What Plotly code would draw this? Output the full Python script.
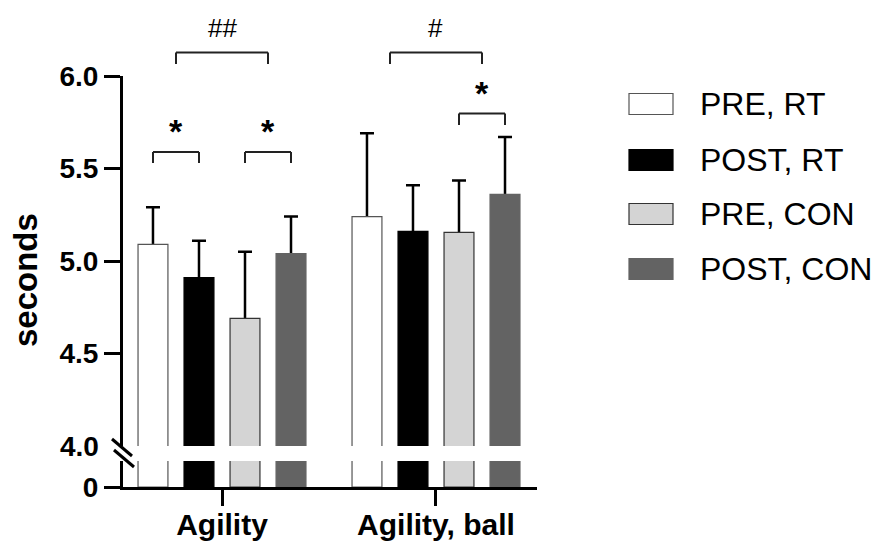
import plotly.graph_objects as go

# ---------------- data ----------------
categories = ["Agility", "Agility, ball"]
series_names = ["PRE, RT", "POST, RT", "PRE, CON", "POST, CON"]
pre_rt = [5.09, 5.24]
pre_rt_sd = [0.20, 0.45]
post_rt = [4.91, 5.16]
post_rt_sd = [0.20, 0.25]
pre_con = [4.69, 5.155]
pre_con_sd = [0.36, 0.28]
post_con = [5.04, 5.36]
post_con_sd = [0.20, 0.31]
upper_ticks = [4.5, 5.0, 5.5, 6.0]
upper_ticktext = ["4.5", "5.0", "5.5", "6.0"]

values = [pre_rt, post_rt, pre_con, post_con]
sds = [pre_rt_sd, post_rt_sd, pre_con_sd, post_con_sd]
fills = ["#ffffff", "#000000", "#d4d4d4", "#636363"]
lines = ["#555555", "#000000", "#333333", "#636363"]

W, H = 893, 546
def px(x):
    return x / W
def py(y):
    return 1 - y / H

FONT = "Liberation Sans"
xpos = list(range(len(categories)))
BARGAP = 0.14
pitch = (1 - BARGAP) / 4

fig = go.Figure()
# error bars first (transparent bars); the opaque bars drawn afterwards hide
# the lower part of each whisker, leaving only the upward (+SD) part visible
for i in range(4):
    fig.add_trace(go.Bar(
        x=xpos, y=values[i], name=series_names[i], xaxis="x", yaxis="y",
        marker=dict(color="rgba(0,0,0,0)", line=dict(width=0)),
        error_y=dict(type="data", symmetric=False, array=sds[i],
                     arrayminus=values[i], color="#000000",
                     thickness=2.5, width=7),
        showlegend=False, offsetgroup=str(i), hoverinfo="skip"))
for i in range(4):
    # upper segment
    fig.add_trace(go.Bar(
        x=xpos, y=values[i], name=series_names[i], xaxis="x", yaxis="y",
        marker=dict(color=fills[i], line=dict(color=lines[i], width=1.2)),
        showlegend=False, offsetgroup=str(i)))
    # lower segment (0 .. break)
    fig.add_trace(go.Bar(
        x=xpos, y=values[i], name=series_names[i], xaxis="x", yaxis="y2",
        marker=dict(color=fills[i], line=dict(color=lines[i], width=1.2)),
        showlegend=False, offsetgroup=str(i)))

axis_common = dict(showline=True, linecolor="#000000", linewidth=3,
                   ticks="outside", ticklen=16, tickwidth=3, tickcolor="#000000",
                   showgrid=False, zeroline=False, automargin=False,
                   tickfont=dict(family=FONT, size=28, color="#000000", weight="bold"))

fig.update_layout(
    template="none",
    width=W, height=H, autosize=False,
    margin=dict(l=0, r=0, t=0, b=0, pad=0),
    paper_bgcolor="#ffffff", plot_bgcolor="rgba(0,0,0,0)",
    showlegend=False,
    barmode="group", bargap=BARGAP, bargroupgap=0.35,
    xaxis=dict(domain=[px(123), px(537)], range=[-0.4626, 1.472],
               tickvals=xpos, ticktext=categories, anchor="y2",
               **axis_common),
    yaxis=dict(domain=[py(446), py(76)], range=[4.0, 6.0],
               tickvals=upper_ticks, ticktext=upper_ticktext, anchor="x",
               **axis_common),
    yaxis2=dict(domain=[py(487), py(461)], range=[0, 0.4],
                tickvals=[0], ticktext=["0"], anchor="x",
                **axis_common),
)
fig.update_xaxes(tickfont=dict(size=30), ticklabelstandoff=-7)

shapes = []
annotations = []

def bar_center(g, j):
    return xpos[g] + (j - 1.5) * pitch

def bracket(x0, x1, ytop, ybot):
    for (a, b, c, d) in [(x0, ytop, x1, ytop), (x0, ytop, x0, ybot), (x1, ytop, x1, ybot)]:
        shapes.append(dict(type="line", xref="x", yref="paper",
                           x0=a, y0=py(b), x1=c, y1=py(d),
                           line=dict(color="#222222", width=2)))

def label(x, y, text, size, bold):
    annotations.append(dict(xref="x", yref="paper", x=x, y=py(y), text=text,
                            showarrow=False, xanchor="center", yanchor="middle",
                            font=dict(family=FONT, size=size, color="#000000",
                                      weight="bold" if bold else "normal")))

# Agility: PRE vs POST within RT and CON
bracket(bar_center(0, 0), bar_center(0, 1), 152, 163)
label((bar_center(0, 0) + bar_center(0, 1)) / 2, 131, "*", 34, True)
bracket(bar_center(0, 2), bar_center(0, 3), 152, 163)
label((bar_center(0, 2) + bar_center(0, 3)) / 2, 131, "*", 34, True)
# Agility: group x time
bracket(xpos[0] - pitch, xpos[0] + pitch, 52.5, 64)
label(xpos[0], 28, "##", 26, False)
# Agility, ball
bracket(xpos[1] - pitch, xpos[1] + pitch, 52.5, 64)
label(xpos[1], 28, "#", 26, False)
bracket(bar_center(1, 2), bar_center(1, 3), 113.5, 125)
label((bar_center(1, 2) + bar_center(1, 3)) / 2, 93, "*", 34, True)

# axis break marks
for (x0, y0, x1, y1) in [(112, 439, 132, 456), (114, 450, 134, 467)]:
    shapes.append(dict(type="line", xref="paper", yref="paper",
                       x0=px(x0), y0=py(y0), x1=px(x1), y1=py(y1),
                       line=dict(color="#000000", width=3)))

# "4.0" label at break
annotations.append(dict(xref="paper", yref="paper", x=px(101), y=py(446), text="4.0",
                        showarrow=False, xanchor="right", yanchor="middle",
                        font=dict(family=FONT, size=28, color="#000000", weight="bold")))

# y-axis title
annotations.append(dict(xref="paper", yref="paper", x=px(25), y=py(280), text="seconds",
                        showarrow=False, xanchor="center", yanchor="middle", textangle=-90,
                        font=dict(family=FONT, size=33, color="#000000", weight="bold")))

# manual legend
leg_y = [104, 160, 214, 269]
for i in range(4):
    shapes.append(dict(type="rect", xref="paper", yref="paper",
                       x0=px(629), x1=px(673), y0=py(leg_y[i] + 10.5), y1=py(leg_y[i] - 10.5),
                       fillcolor=fills[i], line=dict(color=lines[i], width=1.2)))
    annotations.append(dict(xref="paper", yref="paper", x=px(698), y=py(leg_y[i]),
                            text=series_names[i], showarrow=False,
                            xanchor="left", yanchor="middle",
                            font=dict(family=FONT, size=32, color="#000000")))

fig.update_layout(shapes=shapes, annotations=annotations)
fig.write_html("out.html", config={"displayModeBar": False},
               post_script="document.body.style.margin='0';document.body.style.overflow='hidden';")
